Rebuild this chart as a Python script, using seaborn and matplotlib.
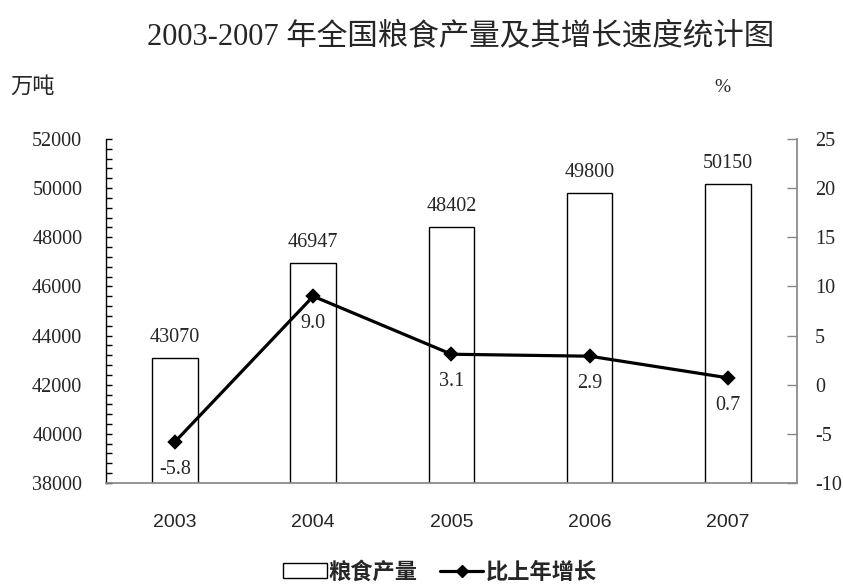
import matplotlib
matplotlib.use("Agg")
import matplotlib.pyplot as plt
import seaborn as sns
import pandas as pd
from matplotlib.ticker import MultipleLocator
from matplotlib.lines import Line2D
from matplotlib.patches import Patch

years = ["2003", "2004", "2005", "2006", "2007"]
production = [43070, 46947, 48402, 49800, 50150]
growth = [-5.8, 9.0, 3.1, 2.9, 0.7]
growth_labels = ["-5.8", "9.0", "3.1", "2.9", "0.7"]
left_ticks = [38000, 40000, 42000, 44000, 46000, 48000, 50000, 52000]
right_ticks = [-10, -5, 0, 5, 10, 15, 20, 25]

sns.set_theme(style="white")
serif = ["Liberation Serif", "Noto Sans CJK SC", "DejaVu Sans"]
sans = ["Liberation Sans", "Noto Sans CJK SC", "DejaVu Sans"]
cjk = ["Noto Sans CJK SC", "DejaVu Sans"]
plt.rcParams["font.family"] = serif
plt.rcParams["axes.unicode_minus"] = False

df = pd.DataFrame({"year": years, "production": production, "growth": growth})

fig = plt.figure(figsize=(8.43, 5.86), dpi=100)
ax = fig.add_axes([0.1257, 0.1758, 0.8197, 0.587])
sns.barplot(data=df, x="year", y="production", color="white", edgecolor="black",
            linewidth=1.0, width=0.33, ax=ax, saturation=1)
ax.set_ylim(38000, 52000)
ax.set_yticks(left_ticks)
ax.yaxis.set_minor_locator(MultipleLocator(400))
ax.tick_params(axis="y", which="both", direction="in", length=4, width=1, color="black",
               left=True, pad=17, labelsize=14.5)
ax.tick_params(axis="x", length=0, pad=22, labelsize=14)
for lab in ax.get_xticklabels():
    lab.set_fontfamily(sans)
for lab in ax.get_yticklabels():
    lab.set_fontfamily(serif)
ax.set_xlabel("")
ax.set_ylabel("")
for s in ["top", "right"]:
    ax.spines[s].set_visible(False)
ax.spines["left"].set_color("black")
ax.spines["bottom"].set_color("#888888")
ax.spines["left"].set_linewidth(1.0)

for i, v in enumerate(production):
    ax.annotate(str(v), (i, v), xytext=(0, 8), textcoords="offset points",
                ha="center", va="bottom", fontsize=14.5, family=serif)

ax2 = ax.twinx()
sns.pointplot(data=df, x="year", y="growth", color="black", markers="D",
              linewidth=2.3, markersize=6, ax=ax2)
ax2.set_ylim(-10, 25)
ax2.set_yticks(right_ticks)
ax2.tick_params(axis="y", direction="in", length=7, width=1, color="#888888",
                right=True, pad=13, labelsize=14.5)
for lab in ax2.get_yticklabels():
    lab.set_fontfamily(serif)
ax2.set_ylabel("")
ax2.set_xlabel("")
for s in ["top", "left", "bottom"]:
    ax2.spines[s].set_visible(False)
ax2.spines["right"].set_color("#888888")
ax2.set_xlim(ax.get_xlim())

for i, (v, t) in enumerate(zip(growth, growth_labels)):
    ax2.annotate(t, (i, v), xytext=(0, -13), textcoords="offset points",
                 ha="center", va="top", fontsize=14.5, family=serif)

fig.text(0.547, 0.935, "2003-2007 年全国粮食产量及其增长速度统计图", ha="center", va="center",
         fontsize=22, family=serif)
fig.text(0.012, 0.853, "万吨", ha="left", va="center", fontsize=16, family=cjk)
fig.text(0.857, 0.850, "%", ha="center", va="center", fontsize=14, family=serif)

handles = [Patch(facecolor="white", edgecolor="black", linewidth=1.0),
           Line2D([0], [0], color="black", lw=2.3, marker="D", markersize=6)]
fig.legend(handles, ["粮食产量", "比上年增长"], loc="center", bbox_to_anchor=(0.522, 0.024),
           ncol=2, frameon=False, prop={"family": cjk, "size": 16, "weight": "bold"},
           handlelength=1.95, handletextpad=0.1, columnspacing=1.0, borderpad=0)

fig.savefig("out.png", dpi=100)
